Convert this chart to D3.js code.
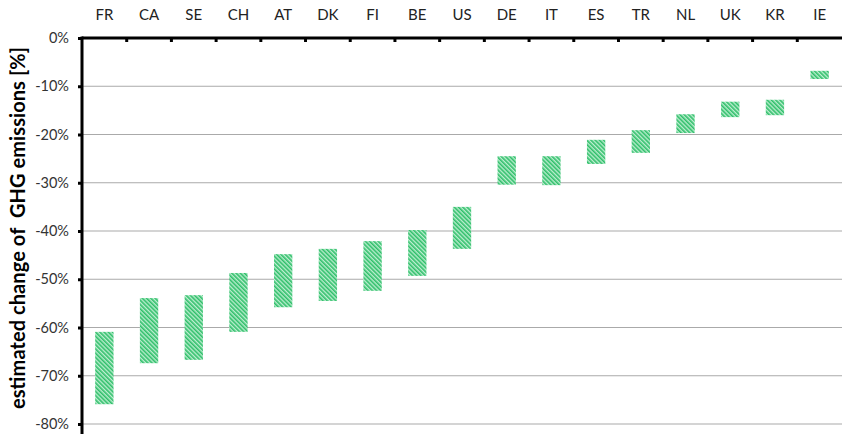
<!DOCTYPE html>
<html>
<head>
<meta charset="utf-8">
<script src="https://cdn.jsdelivr.net/npm/d3@7"></script>
<style>
  body { margin: 0; background: #fff; }
  text { font-family: Lato, "Open Sans", sans-serif; fill: #222; }
</style>
</head>
<body>
<div id="viz"></div>
<script>
// countries, left to right
var countries = ["FR", "CA", "SE", "CH", "AT", "DK", "FI", "BE", "US", "DE", "IT", "ES", "TR", "NL", "UK", "KR", "IE"];
// upper end of estimated change (%)
var upper = [-60.9, -53.9, -53.3, -48.7, -44.8, -43.7, -42.1, -39.8, -35.0, -24.5, -24.5, -21.1, -19.1, -15.8, -13.2, -12.8, -6.8];
// lower end of estimated change (%)
var lower = [-75.9, -67.4, -66.7, -60.9, -55.8, -54.5, -52.4, -49.3, -43.7, -30.4, -30.5, -26.1, -23.8, -19.7, -16.4, -16.0, -8.5];
var yTicks = [0, -10, -20, -30, -40, -50, -60, -70, -80];

var W = 842, H = 434;
var m = {left: 82, right: 0, top: 38, bottom: 10};

var svg = d3.select("#viz")
	.append("svg")
	.attr("width", W)
	.attr("height", H);

// fine diagonal hatch
var defs = svg.append("defs");
var pat = defs.append("pattern")
	.attr("id", "hatch")
	.attr("patternUnits", "userSpaceOnUse")
	.attr("width", 3)
	.attr("height", 3)
	.attr("patternTransform", "rotate(-45)");
pat.append("rect").attr("width", 3).attr("height", 3).attr("fill", "#bdeed0");
pat.append("rect").attr("width", 1.6).attr("height", 3).attr("fill", "#2fbf6a");

var x = d3.scaleBand()
	.domain(countries)
	.range([m.left, W - m.right]);

var y = d3.scaleLinear()
	.domain([-80, 0])
	.range([424, m.top]);

// gridlines
svg.selectAll("line.grid").data(yTicks.slice(1)).enter()
	.append("line")
	.attr("x1", m.left)
	.attr("x2", W)
	.attr("y1", function(d) {return y(d);})
	.attr("y2", function(d) {return y(d);})
	.style("stroke", "#aaa")
	.style("stroke-width", 1.2);

// bars
var bw = x.bandwidth() * 0.41;
svg.selectAll("rect.bar").data(countries).enter()
	.append("rect")
	.attr("x", function(d) {return x(d) + (x.bandwidth() - bw) / 2;})
	.attr("y", function(d, i) {return y(upper[i]);})
	.attr("width", bw)
	.attr("height", function(d, i) {return y(lower[i]) - y(upper[i]);})
	.style("fill", "url(#hatch)");

// y axis
var yAxis = d3.axisLeft(y)
	.tickValues(yTicks)
	.tickSize(4)
	.tickPadding(9)
	.tickFormat(function(d) {return d + "%";});

var gy = svg.append("g")
	.attr("transform", "translate(" + m.left + ",0)")
	.call(yAxis);
gy.select(".domain").remove();
gy.selectAll(".tick line").style("stroke", "#000").style("stroke-width", 3);
gy.selectAll("text").style("font-size", "14.5px").style("fill", "#333");

svg.append("line")
	.attr("x1", m.left).attr("x2", m.left)
	.attr("y1", m.top - 1.5).attr("y2", H)
	.style("stroke", "#000")
	.style("stroke-width", 3);

// top axis line with separators between categories
svg.append("line")
	.attr("x1", m.left).attr("x2", W)
	.attr("y1", m.top).attr("y2", m.top)
	.style("stroke", "#000")
	.style("stroke-width", 3);

svg.selectAll("line.sep").data(countries.slice(1)).enter()
	.append("line")
	.attr("x1", function(d) {return x(d);})
	.attr("x2", function(d) {return x(d);})
	.attr("y1", m.top)
	.attr("y2", m.top + 4)
	.style("stroke", "#000")
	.style("stroke-width", 3);

svg.selectAll("text.cat").data(countries).enter()
	.append("text")
	.attr("x", function(d) {return x(d) + x.bandwidth() / 2;})
	.attr("y", 20)
	.attr("text-anchor", "middle")
	.style("font-size", "15px")
	.text(function(d) {return d;});

// axis title
svg.append("text")
	.attr("transform", "translate(25,228) rotate(-90)")
	.attr("text-anchor", "middle")
	.attr("textLength", 362)
	.attr("lengthAdjust", "spacing")
	.style("font-size", "20px")
	.style("font-weight", "bold")
	.style("fill", "#000")
	.style("white-space", "pre")
	.text("estimated change of  GHG emissions [%]");
</script>
</body>
</html>
